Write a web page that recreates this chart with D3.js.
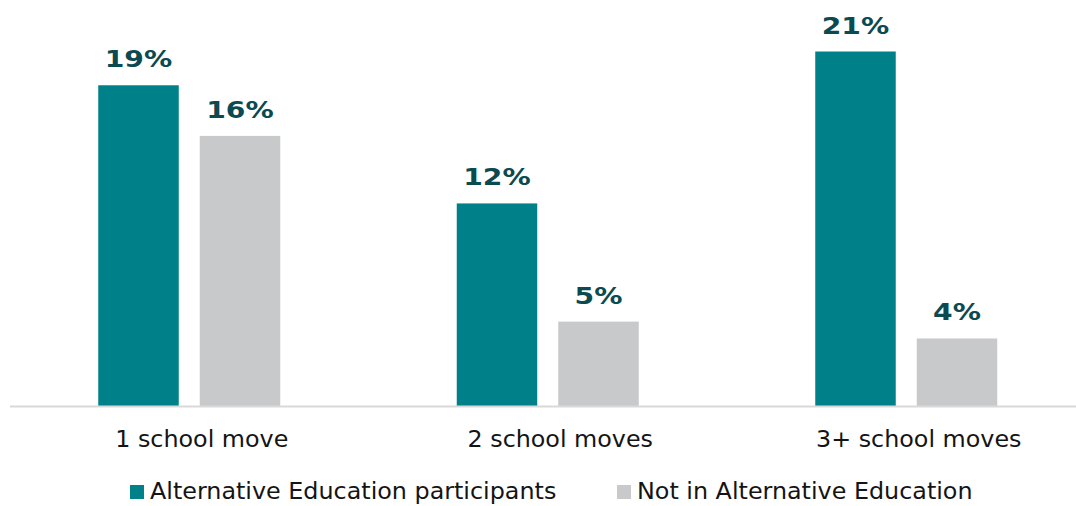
<!DOCTYPE html>
<html><head><meta charset="utf-8">
<script src="https://cdn.jsdelivr.net/npm/d3@7"></script>
<style>body{margin:0;background:#fff}svg{display:block}</style>
</head><body>
<script>
const categories = ["1 school move", "2 school moves", "3+ school moves"];
const seriesNames = ["Alternative Education participants", "Not in Alternative Education"];
const altEd = [19, 12, 21];
const notAltEd = [16, 5, 4];
const colors = ["#00818A", "#C8C9CB"];

const W = 1076, H = 506;
const svg = d3.select("body").append("svg").attr("width", W).attr("height", H);
const font = "DejaVu Sans, Verdana, sans-serif";

function widen(sel, factor) {
  sel.each(function() {
    const len = this.getComputedTextLength();
    d3.select(this).attr("textLength", len * factor).attr("lengthAdjust", "spacingAndGlyphs");
  });
}

const x0 = d3.scaleBand().domain(categories).range([10, 1085.5]).padding(0);
const bw = x0.bandwidth();
const x1 = d3.scaleBand().domain(seriesNames).range([bw/2 - 91, bw/2 + 91]).paddingInner(0.207);
const y = d3.scaleLinear().domain([0, 21]).range([406, 51.5]);

const data = categories.map((c, i) => ({cat: c, vals: [altEd[i], notAltEd[i]]}));

const g = svg.selectAll("g.grp").data(data).join("g").attr("class", "grp")
  .attr("transform", d => `translate(${x0(d.cat)},0)`);

g.selectAll("rect").data(d => d.vals.map((v, j) => ({s: seriesNames[j], v, j})))
  .join("rect")
  .attr("x", d => x1(d.s)).attr("width", x1.bandwidth())
  .attr("y", d => y(d.v)).attr("height", d => y(0) - y(d.v))
  .attr("fill", d => colors[d.j]);

const vals = g.selectAll("text.val").data(d => d.vals.map((v, j) => ({s: seriesNames[j], v, j})))
  .join("text").attr("class", "val")
  .attr("x", d => x1(d.s) + x1.bandwidth()/2)
  .attr("y", d => y(d.v) - 18)
  .attr("text-anchor", "middle")
  .attr("font-family", font).attr("font-weight", "bold").attr("font-size", 23.5)
  .attr("fill", "#0B4A50")
  .text(d => d.v + "%");
widen(vals, 1.2);

svg.append("line").attr("x1", 10).attr("x2", 1076).attr("y1", 406.5).attr("y2", 406.5)
  .attr("stroke", "#D9D9D9").attr("stroke-width", 2);

const xAxis = d3.axisBottom(x0).tickSize(0).tickPadding(0);
const ax = svg.append("g").attr("transform", "translate(12.5,447)").call(xAxis);
ax.select(".domain").remove();
const axT = ax.selectAll("text").attr("font-family", font).attr("font-size", 23).attr("fill", "#141414")
  .attr("dy", 0);
widen(axT, 1.035);

const legX = [130, 617];
const leg = svg.selectAll("g.leg").data(seriesNames).join("g").attr("class", "leg")
  .attr("transform", (d, i) => `translate(${legX[i]},485)`);
leg.append("rect").attr("width", 14).attr("height", 14).attr("fill", (d, i) => colors[i]);
const legT = leg.append("text").attr("x", 20).attr("y", 14).attr("font-family", font).attr("font-size", 23)
  .attr("fill", "#141414").text(d => d);
widen(legT, 1.036);
</script>
</body></html>
